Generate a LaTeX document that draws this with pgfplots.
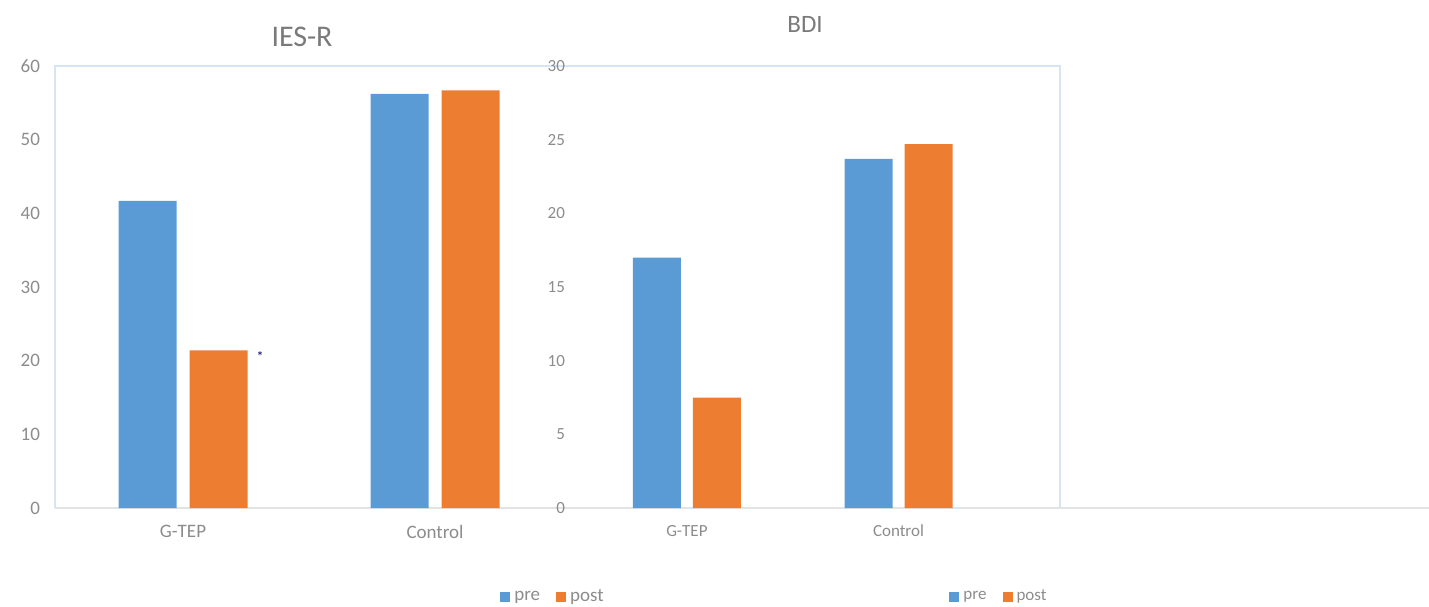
\documentclass[border=0pt]{standalone}
\usepackage{fontspec}
\setmainfont{Carlito}
\usepackage{pgfplots}
\pgfplotsset{compat=1.18}
\definecolor{barblue}{HTML}{5B9BD5}
\definecolor{barorange}{HTML}{ED7D31}
\definecolor{framecol}{HTML}{D6E4F3}
\definecolor{txt}{HTML}{8C8C8C}
\definecolor{titlecol}{HTML}{7A7A7A}
\definecolor{basecol}{HTML}{E3E3E3}

\pgfplotsset{
  /pgfplots/ybar legend/.style={
    /pgfplots/legend image code/.code={\fill[##1] (0pt,-2.5pt) rectangle (5pt,2.5pt);}},
  xlsbar/.style={
    scale only axis, ybar, clip=false,
    axis line style={draw=none}, major tick length=0pt,
    xtick={0,1}, xticklabels={G-TEP,Control}, ymin=0,
    tick label style={text=txt},
    xticklabel style={yshift=-5pt},
    /pgf/number format/assume math mode=true,
    legend style={draw=none, fill=none, legend columns=2, text=txt,
      /tikz/every even column/.append style={column sep=6pt}},
  }
}

\begin{document}
\begin{tikzpicture}
\useasboundingbox (0,0) rectangle (714.5pt,303pt);

% IES-R
\begin{axis}[xlsbar, at={(27.5pt,49pt)}, anchor=south west,
  width=502.5pt, height=221pt,
  xmin=-0.508, xmax=3.48, ymax=60, ytick={0,10,...,60},
  bar width=29pt, ybar=6.5pt,
  tick label style={font=\fontsize{9.5}{11}\selectfont},
  yticklabel style={xshift=-4pt},
  legend style={at={(0.4965,-0.2014)}, anchor=center, font=\fontsize{9.5}{11}\selectfont},
  ]
\draw[basecol, line width=1pt] (rel axis cs:0,0) -- (rel axis cs:1,0);
\draw[framecol, line width=1.4pt] (rel axis cs:0,0) -- (rel axis cs:0,1) -- (rel axis cs:1,1) -- (rel axis cs:1,0);
\addplot[fill=barblue, draw=none] coordinates {(0,41.7) (1,56.2)};
\addplot[fill=barorange, draw=none] coordinates {(0,21.4) (1,56.7)};
\legend{pre,post}
\node[font=\fontsize{7}{8}\selectfont, text=blue!40!black] at (axis cs:0.306,20.6) {*};
\node[font=\fontsize{15}{18}\selectfont, text=titlecol] at (rel axis cs:0.2458,1.0656) {IES-R};
\end{axis}

% BDI
\begin{axis}[xlsbar, at={(286pt,49pt)}, anchor=south west,
  width=428.5pt, height=221pt,
  xmin=-0.543, xmax=3.507, ymax=30, ytick={0,5,...,30},
  bar width=24pt, ybar=6pt,
  tick label style={font=\fontsize{8.5}{10}\selectfont},
  yticklabel style={xshift=0pt},
  legend style={at={(0.4994,-0.2014)}, anchor=center, font=\fontsize{8.5}{10}\selectfont},
  ]
\draw[basecol, line width=1pt] (rel axis cs:0,0) -- (rel axis cs:1,0);
\addplot[fill=barblue, draw=none] coordinates {(0,17.0) (1,23.7)};
\addplot[fill=barorange, draw=none] coordinates {(0,7.5) (1,24.7)};
\legend{pre,post}
\node[font=\fontsize{12.5}{15}\selectfont, text=titlecol] at (rel axis cs:0.272,1.095) {BDI};
\end{axis}
\end{tikzpicture}
\end{document}
